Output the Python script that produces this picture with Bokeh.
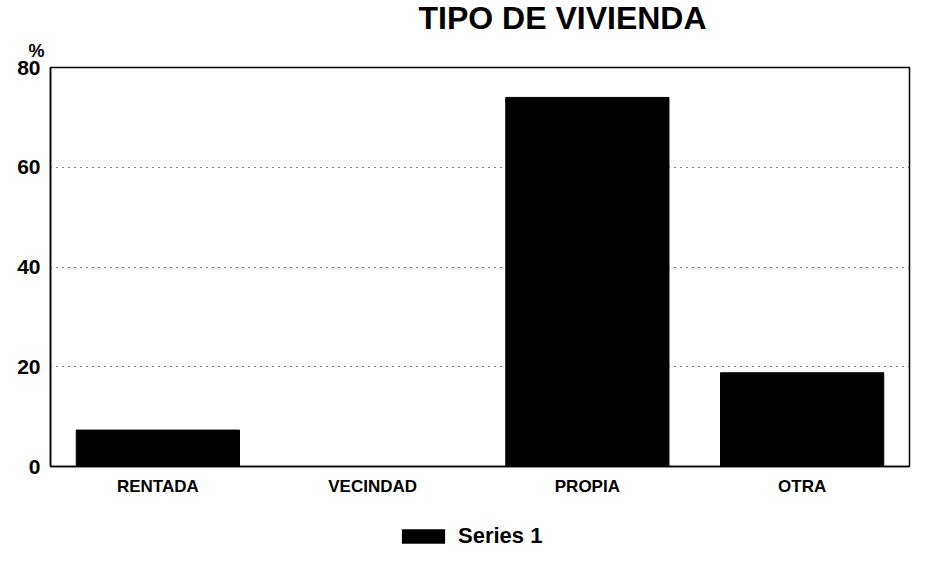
from bokeh.plotting import figure
from bokeh.layouts import column
from bokeh.models import ColumnDataSource, FactorRange, Range1d, Title, Legend, LegendItem, FixedTicker
from bokeh.embed import file_html
from bokeh.resources import INLINE

categories = ["RENTADA", "VECINDAD", "PROPIA", "OTRA"]
values = [7.3, 0.0, 74.0, 18.8]
y_ticks = [0, 20, 40, 60, 80]
title_text = "TIPO DE VIVIENDA"
unit_text = "%"
series_name = "Series 1"

FONT = "Liberation Sans"

src = ColumnDataSource(dict(cat=categories, val=values))

p = figure(width=911, height=500, x_range=FactorRange(*categories, range_padding=0),
           y_range=Range1d(0, 80), output_backend="svg", toolbar_location=None,
           min_border_left=50, min_border_right=2, min_border_top=67, min_border_bottom=34)
p.title.visible = False

r = p.vbar(x="cat", top="val", width=0.76, source=src, fill_color="black", line_color="black")

p.outline_line_color = "black"
p.outline_line_width = 1.5
p.xgrid.grid_line_color = None
p.ygrid.grid_line_color = "black"
p.ygrid.grid_line_dash = "1 5"
p.ygrid.grid_line_width = 1.2
p.yaxis.ticker = FixedTicker(ticks=y_ticks)

for ax in (p.xaxis[0], p.yaxis[0]):
    ax.axis_line_color = "black"
    ax.axis_line_width = 1.5
    ax.major_tick_out = 0
    ax.major_tick_in = 0
    ax.minor_tick_out = 0
    ax.minor_tick_in = 0
    ax.major_label_text_font = FONT
    ax.major_label_text_font_style = "bold"
    ax.major_label_text_color = "black"
p.xaxis.major_label_text_font_size = "17px"
p.yaxis.major_label_text_font_size = "21px"
p.yaxis.major_label_standoff = 10
p.xaxis.major_label_standoff = 10

p.add_layout(Title(text=unit_text, align="left", offset=-22, standoff=13, text_font=FONT,
                   text_font_style="bold", text_font_size="18px", text_color="black"), "above")
p.add_layout(Title(text=title_text, align="left", offset=368, standoff=-7, text_font=FONT,
                   text_font_style="bold", text_font_size="32px", text_color="black"), "above")

# legend strip below the chart
p2 = figure(width=911, height=57, x_range=Range1d(0, 1), y_range=Range1d(0, 1),
            output_backend="svg", toolbar_location=None, x_axis_location=None,
            y_axis_location=None, min_border=0, outline_line_color=None)
p2.title.visible = False
p2.grid.visible = False
r2 = p2.vbar(x=[-10], top=[0], bottom=[0], width=0.1, fill_color="black", line_color=None)
legend = Legend(items=[LegendItem(label=series_name, renderers=[r2])], location=(346, 8),
                orientation="horizontal", glyph_width=54, glyph_height=18,
                label_text_font=FONT, label_text_font_style="bold", label_text_font_size="22px",
                label_text_color="black", background_fill_alpha=0,
                border_line_color=None, margin=0, padding=0, label_standoff=8)
p2.add_layout(legend)

layout = column(p, p2, spacing=0)
open("out.html", "w").write(file_html(layout, INLINE))
